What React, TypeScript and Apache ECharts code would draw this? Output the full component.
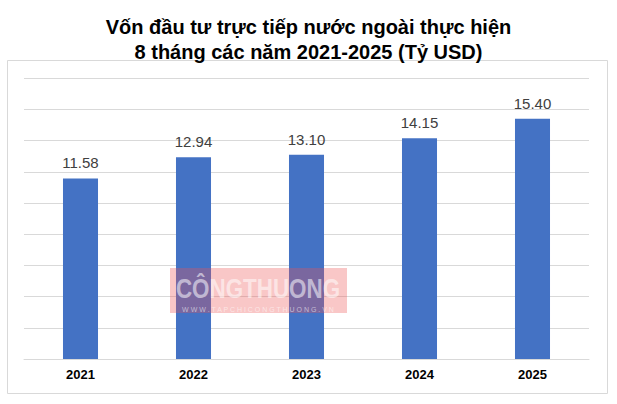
import React, { useEffect, useRef } from "react";
import * as echarts from "echarts";

const categories = ["2021", "2022", "2023", "2024", "2025"];
const values = [11.58, 12.94, 13.1, 14.15, 15.4];
const titleLines = [
  "Vốn đầu tư trực tiếp nước ngoài thực hiện",
  "8 tháng các năm 2021-2025 (Tỷ USD)",
];

export default function App() {
  const ref = useRef<HTMLDivElement>(null);
  useEffect(() => {
    if (!ref.current) return;
    const chart = echarts.init(ref.current, undefined, { renderer: "svg" });
    chart.setOption({
      animation: false,
      backgroundColor: "#ffffff",
      title: {
        text: titleLines.join("\n"),
        left: "center",
        top: 9,
        textStyle: {
          fontFamily: "Liberation Sans, Arial, sans-serif",
          fontWeight: "bold",
          fontSize: 20,
          lineHeight: 25,
          color: "#000000",
        },
      },
      graphic: [
        {
          type: "rect",
          shape: { x: 7.5, y: 60.5, width: 600, height: 333 },
          style: { fill: "none", stroke: "#d9d9d9", lineWidth: 1 },
          z: 0,
          silent: true,
        },
        {
          type: "rect",
          shape: { x: 170, y: 268, width: 177, height: 45 },
          style: { fill: "rgba(235,80,80,0.32)" },
          z: 100,
          silent: true,
        },
        {
          type: "text",
          x: 258,
          y: 288,
          scaleX: 0.8,
          z: 101,
          silent: true,
          style: {
            text: "CÔNGTHUONG",
            fill: "rgba(255,255,255,0.55)",
            font: "bold 28px 'Liberation Sans', Arial, sans-serif",
            align: "center",
            verticalAlign: "middle",
          },
        },
        {
          type: "text",
          x: 258,
          y: 309,
          z: 101,
          silent: true,
          style: {
            text: "W W W . T A P C H I C O N G T H U O N G . V N",
            fill: "rgba(255,255,255,0.55)",
            font: "7px 'Liberation Sans', sans-serif",
            align: "center",
            verticalAlign: "middle",
          },
        },
      ],
      grid: { left: 24, right: 28, top: 78.3, bottom: 45 },
      xAxis: {
        type: "category",
        data: categories,
        axisTick: { show: false },
        axisLine: { lineStyle: { color: "#d9d9d9" } },
        axisLabel: {
          fontFamily: "Liberation Sans, Arial, sans-serif",
          fontWeight: "bold",
          fontSize: 13,
          color: "#000000",
          margin: 9,
        },
      },
      yAxis: {
        type: "value",
        min: 0,
        max: 18,
        interval: 2,
        axisLabel: { show: false },
        axisLine: { show: false },
        axisTick: { show: false },
        splitLine: { lineStyle: { color: "#d9d9d9", width: 1 } },
      },
      series: [
        {
          type: "bar",
          data: values,
          barWidth: "31%",
          itemStyle: { color: "#4472c4" },
          label: {
            show: true,
            position: "top",
            distance: 8,
            fontFamily: "Liberation Sans, Arial, sans-serif",
            fontSize: 15,
            color: "#404040",
            formatter: (p: any) => Number(p.value).toFixed(2),
          },
        },
      ],
    });
    return () => chart.dispose();
  }, []);
  return (
    <div
      ref={ref}
      style={{ position: "fixed", left: 0, top: 0, width: 617, height: 404 }}
    />
  );
}
